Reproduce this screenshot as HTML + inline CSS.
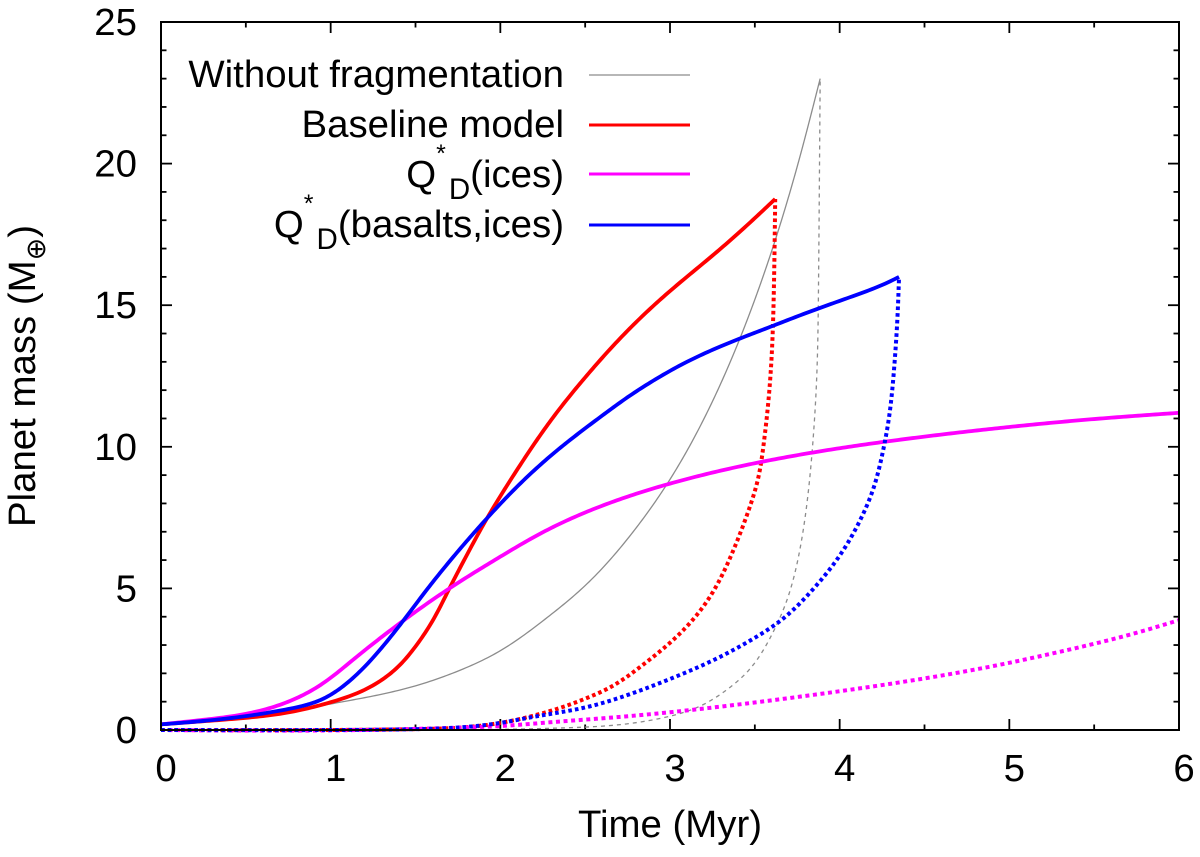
<!DOCTYPE html>
<html lang="en">
<head>
<meta charset="utf-8">
<title>Planet mass vs time</title>
<style>
html,body{margin:0;padding:0;background:#fff;width:1200px;height:857px;overflow:hidden}
svg{display:block}
text{font-family:"Liberation Sans",Arial,sans-serif;fill:#000;font-size:38.4px}
</style>
</head>
<body>
<svg id="chart" xmlns="http://www.w3.org/2000/svg" width="1200" height="857" viewBox="0 0 1200 857">
  <rect x="0" y="0" width="1200" height="857" fill="#fff"/>
  <g id="ticks"></g>
  <g id="tick-labels"></g>
  <g id="series"></g>
  <rect x="161" y="22" width="1018" height="708" fill="none" stroke="#000" stroke-width="2"/>
  <text x="670" y="837" text-anchor="middle">Time (Myr)</text>
  <text transform="translate(35,376) rotate(-90)" text-anchor="middle">Planet mass (M<tspan font-size="27" dy="10" style="font-family:'DejaVu Sans',sans-serif">⊕</tspan><tspan dy="-10">)</tspan></text>
  <g>
    <text x="564" y="87" text-anchor="end">Without fragmentation</text>
    <line x1="589" x2="690" y1="75" y2="75" stroke="#8c8c8c" stroke-width="1.3"/>
    <text x="564" y="137" text-anchor="end">Baseline model</text>
    <line x1="589" x2="690" y1="125" y2="125" stroke="#f00" stroke-width="3"/>
    <text x="564" y="187" text-anchor="end">Q<tspan font-size="25" dy="-25">*</tspan><tspan font-size="29.5" dx="3" dy="37">D</tspan><tspan dy="-12">(ices)</tspan></text>
    <line x1="589" x2="690" y1="174" y2="174" stroke="#f0f" stroke-width="3"/>
    <text x="564" y="237" text-anchor="end">Q<tspan font-size="25" dy="-25">*</tspan><tspan font-size="29.5" dx="3" dy="37">D</tspan><tspan dy="-12">(basalts,ices)</tspan></text>
    <line x1="589" x2="690" y1="225" y2="225" stroke="#00f" stroke-width="3"/>
  </g>
</svg>
<script>
// Tick labels
const xTickLabels = [0, 1, 2, 3, 4, 5, 6];
const yTickLabels = [0, 5, 10, 15, 20, 25];

// Without fragmentation: planet mass
const greyTimes = [0, 0.25, 0.5, 0.75, 1, 1.25, 1.5, 1.75, 2, 2.25, 2.5, 2.75, 3, 3.25, 3.5, 3.75, 3.885];
const greyMass = [0.2, 0.31, 0.45, 0.65, 0.92, 1.2, 1.56, 2.08, 2.8, 3.85, 5.1, 6.75, 8.85, 11.6, 15.2, 19.9, 23];
// Without fragmentation: core mass (dashed)
const greyCoreTimes = [0, 1, 2, 2.4, 2.69, 2.98, 3.18, 3.33, 3.47, 3.59, 3.69, 3.76, 3.805, 3.84, 3.865, 3.875, 3.88, 3.885];
const greyCoreMass = [0, 0, 0.02, 0.08, 0.18, 0.46, 0.85, 1.4, 2.15, 3.25, 4.6, 6.2, 7.9, 10, 12.5, 15.5, 19, 23];

// Baseline model
const redTimes = [0, 0.25, 0.5, 0.75, 1, 1.2, 1.4, 1.5, 1.6, 1.7, 1.8, 1.9, 2.1, 2.3, 2.5, 2.75, 3, 3.25, 3.45, 3.62];
const redMass = [0.2, 0.31, 0.43, 0.62, 0.98, 1.42, 2.25, 2.95, 3.85, 5.0, 6.15, 7.25, 9.2, 10.95, 12.45, 14.1, 15.5, 16.75, 17.8, 18.75];
const redCoreTimes = [0, 1, 1.5, 1.8, 2, 2.21, 2.41, 2.51, 2.645, 2.84, 3.04, 3.235, 3.37, 3.46, 3.52, 3.55, 3.575, 3.6, 3.612, 3.62];
const redCoreMass = [0, 0, 0.03, 0.1, 0.25, 0.53, 0.9, 1.13, 1.5, 2.3, 3.3, 4.7, 6.3, 7.7, 8.9, 10, 11.3, 13.3, 15.5, 18.75];

// Q*D(ices)
const magentaTimes = [0, 0.25, 0.5, 0.75, 0.94, 1.13, 1.41, 1.7, 2, 2.25, 2.5, 2.75, 3, 3.5, 4, 4.5, 5, 5.5, 6];
const magentaMass = [0.2, 0.36, 0.57, 1.0, 1.59, 2.47, 3.78, 5.0, 6.12, 6.98, 7.68, 8.24, 8.7, 9.42, 9.95, 10.36, 10.7, 10.98, 11.2];
const magentaCoreTimes = [0, 1.2, 1.69, 2, 2.31, 2.7, 3.47, 4.06, 4.94, 5.34, 5.73, 6];
const magentaCoreMass = [0, 0, 0.07, 0.14, 0.28, 0.46, 0.95, 1.42, 2.3, 2.82, 3.4, 3.88];

// Q*D(basalts,ices)
const blueTimes = [0, 0.25, 0.5, 0.75, 0.94, 1.13, 1.3, 1.41, 1.57, 1.7, 1.925, 2.1, 2.33, 2.6, 2.75, 2.9, 3.1, 3.3, 3.61, 3.77, 4.06, 4.3, 4.35];
const blueMass = [0.2, 0.32, 0.49, 0.74, 1.06, 1.83, 2.9, 3.72, 4.98, 5.95, 7.5, 8.6, 9.85, 11.1, 11.75, 12.33, 13.0, 13.55, 14.28, 14.65, 15.28, 15.85, 16];
const blueCoreTimes = [0, 1, 1.5, 1.78, 2, 2.21, 2.51, 2.78, 3.02, 3.25, 3.47, 3.67, 3.84, 3.99, 4.12, 4.2, 4.25, 4.29, 4.32, 4.34, 4.35];
const blueCoreMass = [0, 0, 0.03, 0.1, 0.25, 0.48, 0.81, 1.3, 1.85, 2.45, 3.15, 3.95, 4.95, 6.07, 7.4, 8.55, 9.7, 11, 12.7, 14.5, 16];

const NS = 'http://www.w3.org/2000/svg';
const scaleX = t => 161 + (t / 6) * 1018;
const scaleY = m => 730 - (m / 25) * 708;

// Natural cubic spline second derivatives for values v at parameters s
function splineM(s, v) {
  const n = s.length, a = new Array(n).fill(0), b = new Array(n).fill(1), c = new Array(n).fill(0), r = new Array(n).fill(0);
  for (let i = 1; i < n - 1; i++) {
    const h0 = s[i] - s[i - 1], h1 = s[i + 1] - s[i];
    a[i] = h0;
    b[i] = 2 * (h0 + h1);
    c[i] = h1;
    r[i] = 6 * ((v[i + 1] - v[i]) / h1 - (v[i] - v[i - 1]) / h0);
  }
  for (let i = 1; i < n; i++) {
    const f = a[i] / b[i - 1];
    b[i] -= f * c[i - 1];
    r[i] -= f * r[i - 1];
  }
  const m = new Array(n).fill(0);
  m[n - 1] = r[n - 1] / b[n - 1];
  for (let i = n - 2; i >= 0; i--) m[i] = (r[i] - c[i] * m[i + 1]) / b[i];
  return m;
}

function smoothPath(ts, ms) {
  const xs = ts.map(scaleX), ys = ms.map(scaleY), s = [0];
  for (let i = 1; i < xs.length; i++) {
    s.push(s[i - 1] + Math.max(Math.hypot(xs[i] - xs[i - 1], ys[i] - ys[i - 1]), 0.01));
  }
  const mx = splineM(s, xs), my = splineM(s, ys);
  const ev = (v, m, i, u) => {
    const h = s[i + 1] - s[i], A = (s[i + 1] - u) / h, B = (u - s[i]) / h;
    return A * v[i] + B * v[i + 1] + ((A * A * A - A) * m[i] + (B * B * B - B) * m[i + 1]) * h * h / 6;
  };
  let d = 'M' + xs[0].toFixed(2) + ' ' + ys[0].toFixed(2);
  for (let i = 0; i < s.length - 1; i++) {
    const steps = Math.max(1, Math.ceil((s[i + 1] - s[i]) / 3));
    for (let k = 1; k <= steps; k++) {
      const u = s[i] + (s[i + 1] - s[i]) * k / steps;
      d += 'L' + ev(xs, mx, i, u).toFixed(2) + ' ' + ev(ys, my, i, u).toFixed(2);
    }
  }
  return d;
}

function drawLine(name, ts, ms, color, width, dash) {
  const el = document.createElementNS(NS, 'path');
  
  
  el.setAttribute('d', smoothPath(ts, ms));
  el.setAttribute('fill', 'none');
  el.setAttribute('stroke', color);
  el.setAttribute('stroke-width', width);
  el.setAttribute('stroke-linejoin', 'round');
  if (dash) el.setAttribute('stroke-dasharray', dash);
  document.getElementById('series').appendChild(el);
}

function drawTick(x1, y1, x2, y2) {
  const el = document.createElementNS(NS, 'line');
  
  
  el.setAttribute('x1', x1);
  el.setAttribute('y1', y1);
  el.setAttribute('x2', x2);
  el.setAttribute('y2', y2);
  el.setAttribute('stroke', '#000');
  el.setAttribute('stroke-width', '1.8');
  document.getElementById('ticks').appendChild(el);
}

function drawTickLabel(value, x, y, anchor) {
  const el = document.createElementNS(NS, 'text');
  
  
  el.setAttribute('x', x);
  el.setAttribute('y', y);
  el.setAttribute('text-anchor', anchor);
  el.textContent = value;
  document.getElementById('tick-labels').appendChild(el);
}

const xMax = xTickLabels[xTickLabels.length - 1];
const yMax = yTickLabels[yTickLabels.length - 1];
for (let i = 0; i <= xMax * 2; i++) {
  const t = i / 2, len = i % 2 === 0 ? 11 : 5.5, x = scaleX(t);
  drawTick(x, 730, x, 730 - len);
  drawTick(x, 22, x, 22 + len);
}
for (let m = 0; m <= yMax; m++) {
  const len = m % 5 === 0 ? 11 : 5.5, y = scaleY(m);
  drawTick(161, y, 161 + len, y);
  drawTick(1179, y, 1179 - len, y);
}
xTickLabels.forEach(v => drawTickLabel(v, scaleX(v) + 5, 781, 'middle'));
yTickLabels.forEach(v => drawTickLabel(v, 137, scaleY(v) + 13, 'end'));

drawLine('without-fragmentation-total-mass', greyTimes, greyMass, '#8c8c8c', 1.3);
drawLine('without-fragmentation-core-mass', greyCoreTimes, greyCoreMass, '#8c8c8c', 1.3, '4 4');
drawLine('baseline-total-mass', redTimes, redMass, '#f00', 3.8);
drawLine('baseline-core-mass', redCoreTimes, redCoreMass, '#f00', 4, '3.6 3');
drawLine('ices-total-mass', magentaTimes, magentaMass, '#f0f', 3.8);
drawLine('ices-core-mass', magentaCoreTimes, magentaCoreMass, '#f0f', 4, '4 3.6');
drawLine('basalts-ices-total-mass', blueTimes, blueMass, '#00f', 3.8);
drawLine('basalts-ices-core-mass', blueCoreTimes, blueCoreMass, '#00f', 4, '3.6 3.1');
</script>
</body>
</html>
